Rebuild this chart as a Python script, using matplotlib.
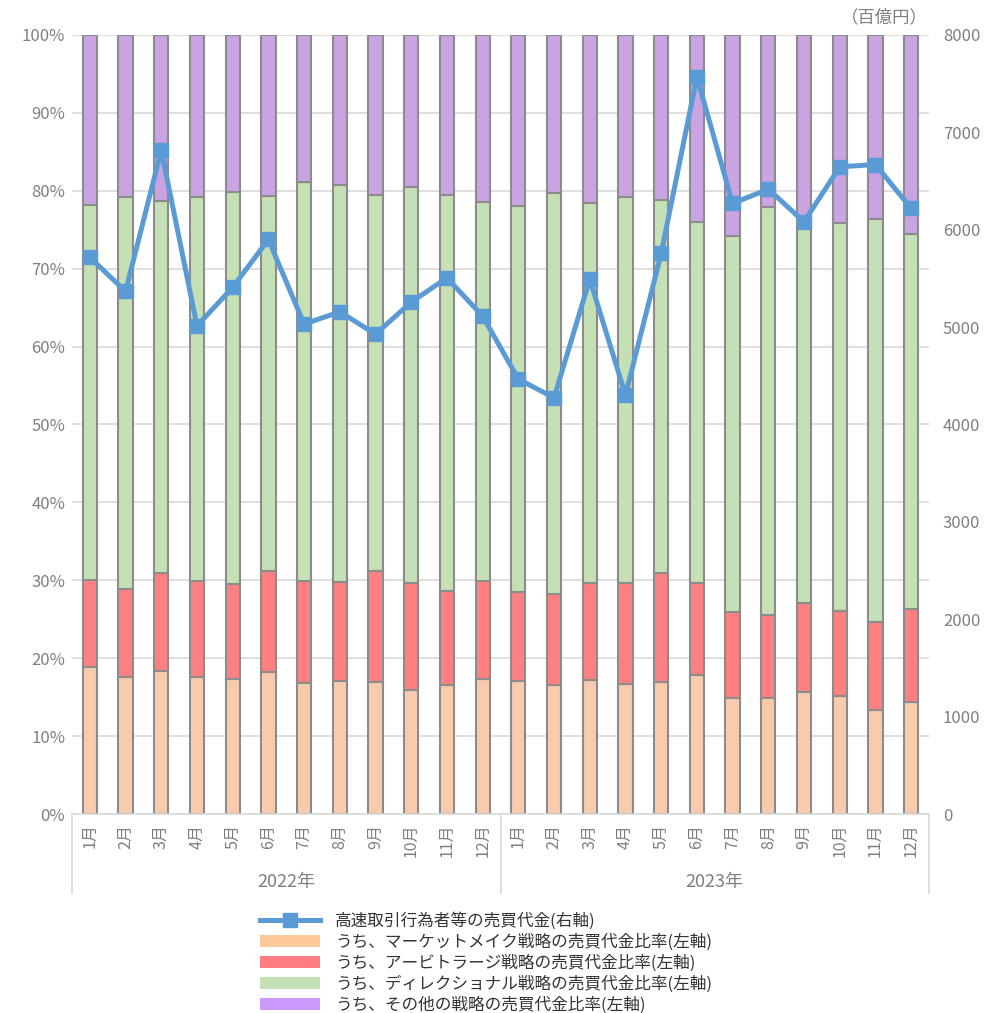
import matplotlib
matplotlib.use("Agg")
import matplotlib.pyplot as plt
from matplotlib.lines import Line2D
from matplotlib.patches import Patch
import numpy as np

plt.rcParams['font.family'] = ['Noto Sans CJK JP', 'DejaVu Sans']

months = [f"{m}月" for m in range(1, 13)] * 2
years = ["2022年", "2023年"]

market_make = [18.9, 17.6, 18.4, 17.6, 17.3, 18.2, 16.8, 17.1, 17.0, 15.9, 16.6, 17.3,
               17.1, 16.6, 17.2, 16.7, 16.9, 17.8, 14.9, 14.9, 15.6, 15.2, 13.4, 14.4]
arbitrage_top = [30.1, 28.9, 31.0, 29.9, 29.5, 31.2, 29.9, 29.8, 31.2, 29.7, 28.6, 29.9,
                 28.5, 28.2, 29.6, 29.6, 31.0, 29.6, 25.9, 25.5, 27.1, 26.0, 24.6, 26.3]
directional_top = [78.2, 79.2, 78.7, 79.2, 79.9, 79.3, 81.1, 80.8, 79.4, 80.5, 79.5, 78.5,
                   78.0, 79.7, 78.4, 79.2, 78.8, 76.0, 74.2, 77.9, 76.3, 75.9, 76.4, 74.4]
hft_value = [5716, 5367, 6817, 5013, 5408, 5900, 5031, 5157, 4928, 5257, 5506, 5113,
             4466, 4274, 5493, 4302, 5757, 7570, 6270, 6417, 6081, 6646, 6670, 6219]

arbitrage = [a - m for a, m in zip(arbitrage_top, market_make)]
directional = [d - a for d, a in zip(directional_top, arbitrage_top)]
other = [100 - d for d in directional_top]

labels = ["高速取引行為者等の売買代金(右軸)",
          "うち、マーケットメイク戦略の売買代金比率(左軸)",
          "うち、アービトラージ戦略の売買代金比率(左軸)",
          "うち、ディレクショナル戦略の売買代金比率(左軸)",
          "うち、その他の戦略の売買代金比率(左軸)"]

c_line = "#5B9BD5"
c_mm = "#F8CBAD"
c_arb = "#FF8080"
c_dir = "#C5E0B4"
c_oth = "#C9A3E2"
c_edge = "#8C8C8C"
c_grid = "#D9D9D9"
c_txt = "#7F7F7F"

W, H = 986, 1013
fig = plt.figure(figsize=(W / 100, H / 100), dpi=100)
L, R, T, B = 72, 929, 35, 814
ax = fig.add_axes([L / W, 1 - B / H, (R - L) / W, (B - T) / H])

x = np.arange(len(months))
bw = 0.4
bottom = np.zeros(len(x))
for vals, col in [(market_make, c_mm), (arbitrage, c_arb), (directional, c_dir), (other, c_oth)]:
    ax.bar(x, vals, bw, bottom=bottom, color=col, edgecolor=c_edge, linewidth=1.5, zorder=2)
    bottom += np.array(vals)

ax.set_xlim(-0.5, len(x) - 0.5)
ax.set_ylim(0, 100)
ax.set_yticks(np.arange(0, 101, 10))
ax.set_yticklabels([f"{v}%" for v in range(0, 101, 10)])
ax.grid(axis='y', color=c_grid, linewidth=1.2, zorder=0)
ax.set_axisbelow(True)
for s in ['left', 'right', 'top']:
    ax.spines[s].set_visible(False)
ax.spines['bottom'].set_color(c_grid)
ax.spines['bottom'].set_linewidth(1.2)
ax.tick_params(axis='y', length=0, labelsize=12, labelcolor=c_txt, pad=5)
ax.set_xticks(x)
ax.set_xticklabels(months, rotation=90, fontsize=11.5, color=c_txt)
ax.tick_params(axis='x', length=0, pad=7)

ax2 = ax.twinx()
ax2.plot(x, hft_value, color=c_line, linewidth=3.6, marker='s', markersize=10, zorder=5)
ax2.set_ylim(0, 8000)
ax2.set_yticks(np.arange(0, 8001, 1000))
ax2.tick_params(axis='y', length=0, labelsize=12, labelcolor=c_txt, pad=10)
for s in ['left', 'right', 'top', 'bottom']:
    ax2.spines[s].set_visible(False)

# category separators
sep_bottom = 1 - 893 / H
for xv in [-0.5, 11.5, 23.5]:
    xf = (L + (xv + 0.5) / 24 * (R - L)) / W
    fig.add_artist(Line2D([xf, xf], [1 - B / H, sep_bottom], color=c_grid, linewidth=1.2))
for i, yl in enumerate(years):
    xc = (L + (6 + 12 * i) / 24 * (R - L)) / W
    fig.text(xc, 1 - 882 / H, yl, ha='center', va='center', fontsize=13, color=c_txt)

fig.text(928 / W, 1 - 17 / H, "（百億円）", ha='right', va='center', fontsize=12.5, color=c_txt)

handles = [Line2D([], [], color=c_line, linewidth=3.6, marker='s', markersize=10),
           Patch(facecolor="#FFC999", edgecolor='none'),
           Patch(facecolor="#FF7C80", edgecolor='none'),
           Patch(facecolor=c_dir, edgecolor='none'),
           Patch(facecolor="#CC99FF", edgecolor='none')]
fig.legend(handles, labels, loc='upper left', bbox_to_anchor=(252 / W, 1 - 904 / H),
           frameon=False, fontsize=12, handlelength=3.6, handleheight=0.75,
           handletextpad=0.9, labelspacing=0.22, borderpad=0, labelcolor="#333333")

fig.savefig("out.png", dpi=100)
